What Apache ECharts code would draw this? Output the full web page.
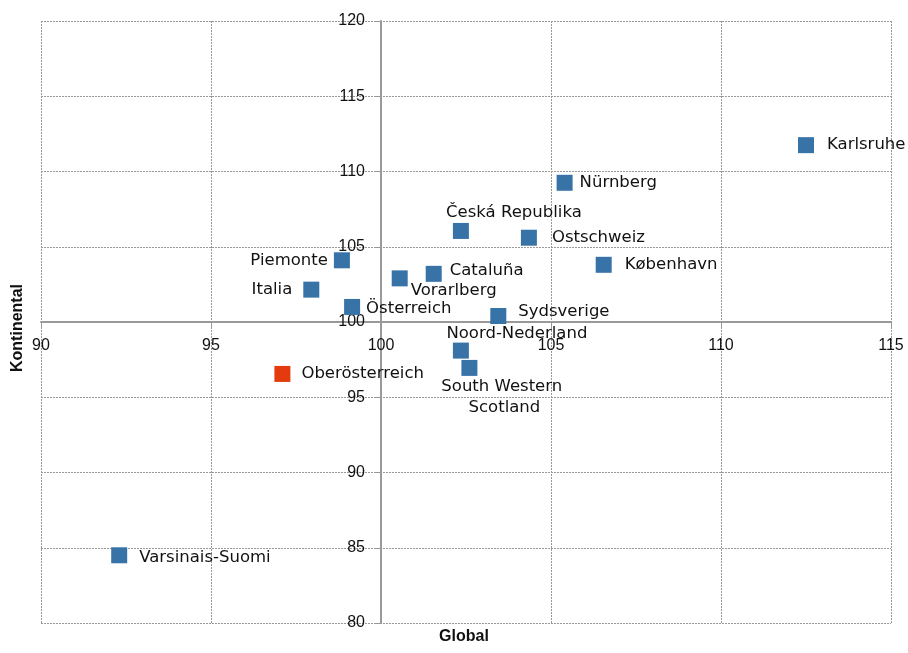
<!DOCTYPE html>
<html>
<head>
    <meta charset="UTF-8">
    <title>Global vs Kontinental</title>
    <script src="https://cdn.jsdelivr.net/npm/echarts@6/dist/echarts.min.js"></script>
    <style>
        html, body { margin: 0; padding: 0; background: #fff; }
        #chart { width: 908px; height: 653px; }
    </style>
</head>
<body>
<div id="chart"></div>
<script type="text/javascript">
    // regions (blue)
    var regions = ['Karlsruhe', 'Nürnberg', 'Česká Republika', 'Ostschweiz', 'København', 'Piemonte', 'Italia',
        'Cataluña', 'Vorarlberg', 'Österreich', 'Sydsverige', 'Noord-Nederland', 'South Western Scotland', 'Varsinais-Suomi'];
    var globalVals = [112.5, 105.4, 102.35, 104.35, 106.55, 98.85, 97.95, 101.55, 100.55, 99.15, 103.45, 102.35, 102.6, 92.3];
    var kontVals = [111.75, 109.25, 106.05, 105.6, 103.8, 104.1, 102.15, 103.2, 102.9, 101.0, 100.4, 98.1, 96.95, 84.5];

    // highlighted region (red)
    var hlRegion = ['Oberösterreich'];
    var hlGlobal = [97.1];
    var hlKont = [96.55];

    var xTicks = [90, 95, 100, 105, 110, 115];
    var yTicks = [80, 85, 90, 95, 100, 105, 110, 115, 120];

    // where each label sits around its marker
    var labelPos = {
        'Karlsruhe': { position: 'right', distance: 13 },
        'Nürnberg': { position: 'right', distance: 7 },
        'Česká Republika': { position: 'inside', offset: [53, -18] },
        'Ostschweiz': { position: 'right', distance: 15 },
        'København': { position: 'right', distance: 13 },
        'Piemonte': { position: 'left', distance: 6 },
        'Italia': { position: 'left', distance: 11 },
        'Cataluña': { position: 'right', distance: 8, offset: [0, -3] },
        'Vorarlberg': { position: 'right', distance: 3, offset: [0, 12] },
        'Österreich': { position: 'right', distance: 6, offset: [0, 2] },
        'Sydsverige': { position: 'right', distance: 12, offset: [0, -4] },
        'Noord-Nederland': { position: 'inside', offset: [56, -17] },
        'South Western Scotland': { position: 'inside', offset: [35, 29], width: 140, overflow: 'break', align: 'center', lineHeight: 21 },
        'Varsinais-Suomi': { position: 'right', distance: 12, offset: [0, 2] },
        'Oberösterreich': { position: 'right', distance: 11 }
    };

    var LABEL_FONT = '"DejaVu Sans", sans-serif';
    var TICK_FONT = '"Liberation Sans", Arial, sans-serif';

    function buildData(names, xs, ys) {
        var out = [];
        for (var i = 0; i < names.length; i++) {
            var lp = labelPos[names[i]] || { position: 'right' };
            out.push({
                name: names[i],
                value: [xs[i], ys[i]],
                label: Object.assign({ show: true, formatter: '{b}', color: '#111', fontSize: 16.5, fontFamily: LABEL_FONT }, lp)
            });
        }
        return out;
    }

    var gridLeft = 41, gridRight = 17, gridTop = 21, gridBottom = 30;
    var gridW = 908 - gridLeft - gridRight;
    var gridH = 653 - gridTop - gridBottom;
    var xMin = xTicks[0], xMax = xTicks[xTicks.length - 1];
    var yMin = yTicks[0], yMax = yTicks[yTicks.length - 1];
    // axes cross at 100 / 100
    var yAxisOffset = -gridW * (100 - xMin) / (xMax - xMin);
    var xAxisOffset = -gridH * (100 - yMin) / (yMax - yMin);

    var gridLine = { show: true, lineStyle: { color: '#999', type: [2, 1], width: 1 } };

    var chart = echarts.init(document.getElementById('chart'));
    chart.setOption({
        animation: false,
        grid: { left: gridLeft, right: gridRight, top: gridTop, bottom: gridBottom },
        xAxis: {
            type: 'value', min: xMin, max: xMax, interval: 5,
            position: 'bottom', offset: xAxisOffset,
            axisLine: { show: true, onZero: false, lineStyle: { color: '#999', width: 2 } },
            axisTick: { show: true, length: 5, lineStyle: { color: '#999' } },
            axisLabel: { color: '#111', fontSize: 16, fontFamily: TICK_FONT, margin: 16 },
            splitLine: gridLine
        },
        yAxis: {
            type: 'value', min: yMin, max: yMax, interval: 5,
            position: 'left', offset: yAxisOffset,
            axisLine: { show: true, onZero: false, lineStyle: { color: '#999', width: 2 } },
            axisTick: { show: true, length: 6, lineStyle: { color: '#999' } },
            axisLabel: { color: '#111', fontSize: 16, fontFamily: TICK_FONT, margin: 16 },
            splitLine: gridLine
        },
        graphic: [
            {
                type: 'text', x: 464, y: 637,
                style: { text: 'Global', fontSize: 16, fontWeight: 'bold', fontFamily: TICK_FONT, fill: '#111',
                    align: 'center', verticalAlign: 'middle' }
            },
            {
                type: 'text', x: 18, y: 328, rotation: Math.PI / 2,
                style: { text: 'Kontinental', fontSize: 16, fontWeight: 'bold', fontFamily: TICK_FONT, fill: '#111',
                    align: 'center', verticalAlign: 'middle' }
            }
        ],
        series: [
            {
                type: 'scatter', symbol: 'rect', symbolSize: 16,
                itemStyle: { color: '#3873a8', opacity: 1 },
                data: buildData(regions, globalVals, kontVals)
            },
            {
                type: 'scatter', symbol: 'rect', symbolSize: 16,
                itemStyle: { color: '#e33a0e', opacity: 1 },
                data: buildData(hlRegion, hlGlobal, hlKont)
            }
        ]
    });
</script>
</body>
</html>
